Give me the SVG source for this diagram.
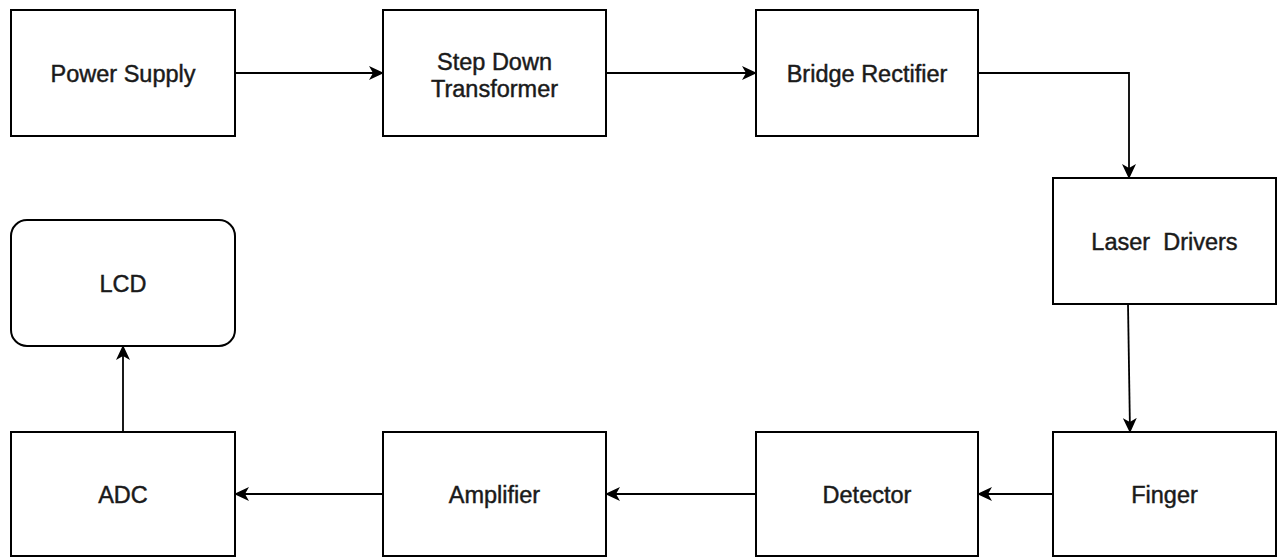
<svg xmlns="http://www.w3.org/2000/svg" width="1278" height="558" viewBox="0 0 1278 558">
<style>
.box{fill:#fff;stroke:#000;stroke-width:2}
.lbl{font-family:"Liberation Sans",Arial,sans-serif;font-size:23.5px;fill:#1a1a1a;stroke:#1a1a1a;stroke-width:0.45;text-anchor:middle;white-space:pre}
.con{fill:none;stroke:#000;stroke-width:1.8}
</style>
<defs>
<marker id="arr" viewBox="0 0 15 14" refX="14" refY="7" markerWidth="15" markerHeight="14" markerUnits="userSpaceOnUse" orient="auto">
<path d="M0,0 L15,7 L0,14 L4,7 Z" fill="#000"/>
</marker>
</defs>
<rect width="1278" height="558" fill="#fff"/>
<g id="connectors">
<path class="con" d="M235,73 H383" marker-end="url(#arr)"/>
<path class="con" d="M606,73 H756" marker-end="url(#arr)"/>
<path class="con" d="M978,73 H1129 V178" marker-end="url(#arr)"/>
<path class="con" d="M1128,304 L1130,432" marker-end="url(#arr)"/>
<path class="con" d="M1053,494 H978" marker-end="url(#arr)"/>
<path class="con" d="M756,494 H606" marker-end="url(#arr)"/>
<path class="con" d="M383,494 H235" marker-end="url(#arr)"/>
<path class="con" d="M123,432 V346" marker-end="url(#arr)"/>
</g>
<g id="power-supply"><rect class="box" x="11" y="10" width="224" height="126"/><text class="lbl" x="123" y="82">Power Supply</text></g>
<g id="step-down"><rect class="box" x="383" y="10" width="223" height="126"/><text class="lbl" x="494.5" y="70">Step Down</text><text class="lbl" x="494.5" y="97">Transformer</text></g>
<g id="bridge"><rect class="box" x="756" y="10" width="222" height="126"/><text class="lbl" x="867" y="82">Bridge Rectifier</text></g>
<g id="laser"><rect class="box" x="1053" y="178" width="223" height="126"/><text class="lbl" x="1164.5" y="250">Laser  Drivers</text></g>
<g id="finger"><rect class="box" x="1053" y="432" width="223" height="124"/><text class="lbl" x="1164.5" y="503">Finger</text></g>
<g id="detector"><rect class="box" x="756" y="432" width="222" height="124"/><text class="lbl" x="867" y="503">Detector</text></g>
<g id="amplifier"><rect class="box" x="383" y="432" width="223" height="124"/><text class="lbl" x="494.5" y="503">Amplifier</text></g>
<g id="adc"><rect class="box" x="11" y="432" width="224" height="124"/><text class="lbl" x="123" y="503">ADC</text></g>
<g id="lcd"><rect class="box" x="11" y="220" width="224" height="126" rx="16" ry="16"/><text class="lbl" x="123" y="292">LCD</text></g>
</svg>
